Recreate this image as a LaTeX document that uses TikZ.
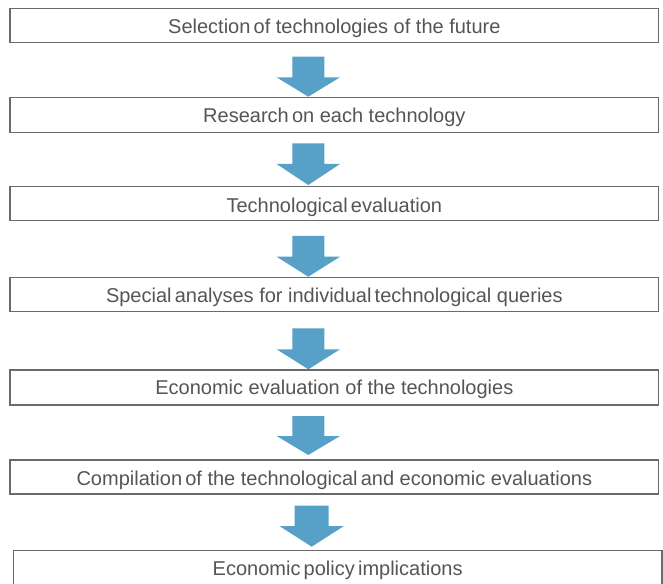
\documentclass[tikz,border=0pt]{standalone}
\usepackage{fontspec}
\setmainfont{Liberation Sans}
\usetikzlibrary{fit,calc}
\definecolor{boxline}{HTML}{6A6A6A}
\definecolor{boxtext}{HTML}{555555}
\definecolor{arrowblue}{HTML}{57A1C8}
% narrow word gap
\newcommand{\tsp}{\hspace{0.16em}}
% block arrow: centre x, shaft top, head top, tip, shaft half width, head half width
\newcommand{\flowarrow}[6]{%
  \fill[arrowblue] (#1-#5,#2) -- (#1+#5,#2) -- (#1+#5,#3) -- (#1+#6,#3)
    -- (#1,#4) -- (#1-#6,#3) -- (#1-#5,#3) -- cycle;}
\begin{document}
\begin{tikzpicture}[x=0.75pt,y=-0.75pt,
  stepbox/.style={draw=boxline,line width=0.9pt,inner sep=0pt,outer sep=0pt},
  steptext/.style={text=boxtext,inner sep=0pt,anchor=base,
    font=\fontsize{15pt}{18pt}\selectfont}]
\useasboundingbox (0,0) rectangle (663,584);
\clip (0,0) rectangle (663,584);
\fill[white] (0,0) rectangle (663,584);

% process boxes
\node[stepbox,fit={(10,8.3)(658.7,42.3)}] (b1) {};
\node[stepbox,fit={(10,97.3)(658.7,132.7)}] (b2) {};
\node[stepbox,fit={(10,186.7)(658.7,220.7)}] (b3) {};
\node[stepbox,fit={(10,277.3)(658.7,311.7)}] (b4) {};
\node[stepbox,fit={(10,370)(658.7,405)}] (b5) {};
\node[stepbox,fit={(10,460)(658.7,494)}] (b6) {};
\node[stepbox,fit={(13.3,550.7)(662,586)}] (b7) {};

% box captions
\node[steptext] (t1) at ($(b1.north)+(0,24.8)$) {Selection\tsp of technologies of the future};
\node[steptext] (t2) at ($(b2.north)+(0,25.3)$) {Research\tsp on each technology};
\node[steptext] (t3) at ($(b3.north)+(0,25.5)$) {Technological\tsp evaluation};
\node[steptext] (t4) at ($(b4.north)+(0,25)$) {Special\tsp analyses for individual\tsp technological queries};
\node[steptext] (t5) at ($(b5.north)+(0,24.8)$) {Economic evaluation of the technologies};
\node[steptext] (t6) at ($(b6.north)+(0,25)$) {Compilation\tsp of the technological\tsp and economic evaluations};
\node[steptext] (t7) at ($(b7.north)+(0,25)$) {Economic\tsp policy\tsp implications};

% block arrows between the steps
\flowarrow{308.3}{56.7}{77.3}{96.7}{16}{31.7}
\flowarrow{308.3}{143.3}{164}{185}{16}{31.7}
\flowarrow{308.3}{236}{256.7}{276.7}{16}{31.7}
\flowarrow{308.3}{328.3}{349.3}{369.3}{16}{31.7}
\flowarrow{308.3}{416}{436}{455}{16}{31.7}
\flowarrow{311.7}{505.7}{526}{546.7}{17}{32.3}
\end{tikzpicture}
\end{document}
